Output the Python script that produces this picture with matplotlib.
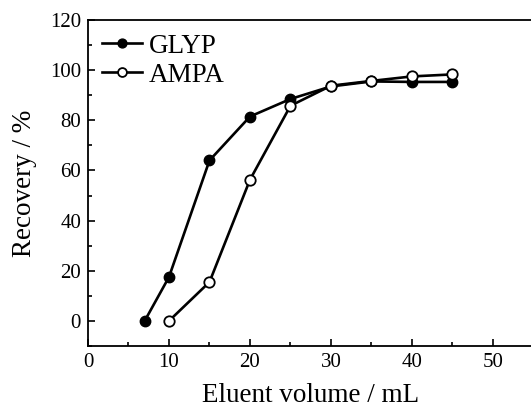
import matplotlib
matplotlib.use('Agg')
import matplotlib.pyplot as plt
from matplotlib.ticker import MultipleLocator

plt.rcParams['font.family'] = ['Liberation Serif', 'DejaVu Serif']

# data
glyp_x = [7, 10, 15, 20, 25, 30, 35, 40, 45]
glyp_y = [0, 17.5, 64, 81.5, 88.5, 93.5, 95.5, 95.3, 95.3]
ampa_x = [10, 15, 20, 25, 30, 35, 40, 45]
ampa_y = [0, 15.5, 56.3, 85.8, 93.8, 95.7, 97.5, 98.3]

fig = plt.figure(figsize=(5.31, 4.08), dpi=100)
ax = fig.add_axes([0.1657, 0.152, 0.839, 0.799])

ax.plot(glyp_x, glyp_y, '-o', color='black', lw=1.9, ms=7.5,
        mfc='black', mec='black', label='GLYP')
ax.plot(ampa_x, ampa_y, '-o', color='black', lw=1.9, ms=7.5,
        mfc='white', mec='black', mew=1.3, label='AMPA')

ax.set_xlim(0, 55)
ax.set_ylim(-10, 120)
ax.xaxis.set_major_locator(MultipleLocator(10))
ax.xaxis.set_minor_locator(MultipleLocator(5))
ax.yaxis.set_major_locator(MultipleLocator(20))
ax.yaxis.set_minor_locator(MultipleLocator(10))
ax.tick_params(which='both', direction='in', labelsize=15, width=1.2, pad=5)
ax.tick_params(which='major', length=5)
ax.tick_params(which='minor', length=3)
for s in ax.spines.values():
    s.set_linewidth(1.3)

ax.set_xlabel('Eluent volume / mL', fontsize=19.5, labelpad=8)
ax.set_ylabel('Recovery / %', fontsize=19.5, labelpad=9)

ax.legend(loc='upper left', frameon=False, fontsize=19.5, handlelength=1.5,
          handletextpad=0.25, borderaxespad=0.3, labelspacing=0.15,
          markerscale=0.85, borderpad=0.2)

fig.savefig('out.png', dpi=100)
